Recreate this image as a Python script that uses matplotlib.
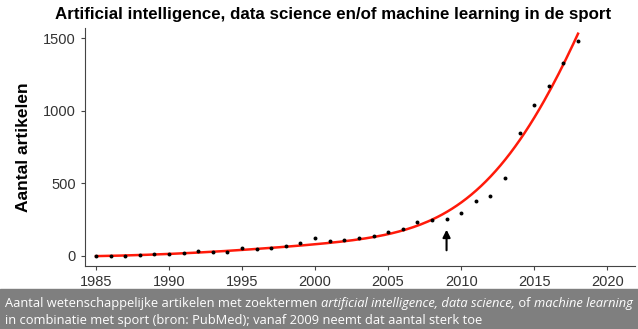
import matplotlib.pyplot as plt
import numpy as np

years = list(range(1985, 2019))
articles = [0, 0, 2, 7, 11, 14, 21, 34, 30, 30, 52, 48, 57, 66, 87, 121, 103, 112,
            127, 139, 167, 189, 233, 247, 256, 294, 381, 411, 534, 847, 1036, 1171,
            1327, 1477]

title = 'Artificial intelligence, data science en/of machine learning in de sport'
caption_parts = [
    ('Aantal wetenschappelijke artikelen met zoektermen ', 'normal'),
    ('artificial intelligence, data science,', 'italic'),
    (' of ', 'normal'),
    ('machine learning', 'italic'),
]
caption_line2 = 'in combinatie met sport (bron: PubMed); vanaf 2009 neemt dat aantal sterk toe'


# local quadratic smoother with a gaussian kernel (smooth trend line)
def smooth(x, y, xs, bw=5.5):
    x = np.asarray(x, float)
    y = np.asarray(y, float)
    out = []
    for x0 in xs:
        w = np.exp(-0.5 * ((x - x0) / bw) ** 2)
        X = np.vstack([np.ones_like(x), x - x0, (x - x0) ** 2]).T
        XtW = X.T * w
        out.append(np.linalg.solve(XtW @ X, XtW @ y)[0])
    return np.array(out)


plt.rcParams['font.family'] = ['Liberation Sans', 'DejaVu Sans']

fig = plt.figure(figsize=(6.38, 3.29), dpi=100)
ax = fig.add_axes([85 / 638, 63 / 329, 550 / 638, 238 / 329])

xs = np.linspace(1985, 2018, 200)
ax.plot(xs, smooth(years, articles, xs), color='#ff1a0a', lw=1.8, zorder=2)
ax.scatter(years, articles, s=8, color='black', zorder=3, linewidths=0)

ax.annotate('', xy=(2009, 200), xytext=(2009, 20),
            arrowprops=dict(arrowstyle='-|>', color='black', lw=1.5,
                            mutation_scale=11))

ax.set_xlim(1984.25, 2021.9)
ax.set_ylim(-69, 1569)
ax.set_xticks(range(1985, 2021, 5))
ax.set_yticks([0, 500, 1000, 1500])
for s in ['top', 'right']:
    ax.spines[s].set_visible(False)
for s in ['left', 'bottom']:
    ax.spines[s].set_color('#444444')
ax.tick_params(labelsize=10.5, colors='#444444', labelcolor='#333333', length=3)
ax.set_ylabel('Aantal artikelen', fontsize=12.5, fontweight='bold', labelpad=9)

fig.text(333 / 638, 1 - 14 / 329, title, ha='center', va='center',
         fontsize=12.2, fontweight='bold')

# caption band
fig.patches.append(plt.Rectangle((0, 0), 1, 40 / 329, transform=fig.transFigure,
                                 color='#7f7f7f', zorder=0))
x = 5 / 638
r = fig.canvas.get_renderer()
for txt, style in caption_parts:
    t = fig.text(x, 1 - 307 / 329, txt, color='white', fontsize=9.3,
                 family='Open Sans', style=style, va='baseline', ha='left')
    bb = t.get_window_extent(renderer=r)
    x += bb.width / fig.bbox.width
fig.text(5 / 638, 1 - 324 / 329, caption_line2, color='white', fontsize=9.3,
         family='Open Sans', va='baseline', ha='left')

fig.savefig('out.png', dpi=100)
